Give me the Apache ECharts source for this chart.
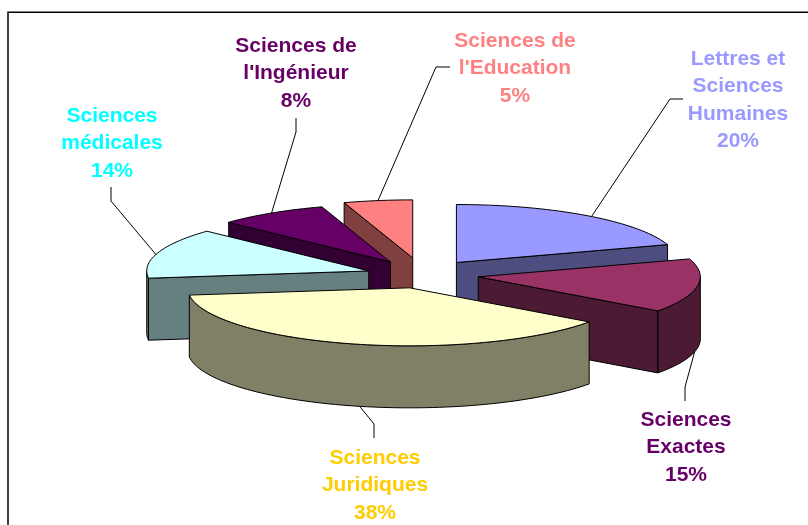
<!DOCTYPE html>
<html>
<head>
<meta charset="utf-8">
<title>Sciences</title>
<script src="https://cdn.jsdelivr.net/npm/echarts@6/dist/echarts.min.js"></script>
<style>
	html,body{margin:0;padding:0;background:#fff;}
	#main{width:808px;height:525px;}
</style>
</head>
<body>
<div id="main"></div>
<script>
	// valeurs, dans le sens horaire depuis midi
	var categories = ["Lettres et\nSciences\nHumaines","Sciences\nExactes","Sciences\nJuridiques","Sciences\nmédicales","Sciences de\nl'Ingénieur","Sciences de\nl'Education"];
	var shares = [20,15,38,14,8,5];
	var topColors = ["#9999FF","#993366","#FFFFCC","#CCFFFF","#660066","#FF8080"];
	var sideColors = ["#4D4D80","#4D1A33","#808066","#668080","#330033","#804040"];
	var textColors = ["#9999FF","#660066","#FFCC00","#00FFFF","#660066","#FF8080"];
	// ordre de dessin, du fond vers l'avant
	var drawOrder = [0,5,4,3,1,2];

	// mise en page du camembert
	var cx = 421.5, cy = 273.5, rx = 222, ry = 58, depth = 62;
	var explodeX = 56, explodeY = 14.8;
	var nudge = [[2,1],[1.5,1],[2,0],[0.5,2],[-1,1],[0,-1]];
	// coude et fin de chaque trait de rappel, centre et haut de chaque texte
	var leaderShift = [1.5,4,-1.4,-1.5,0,0];
	var leaderEnds = [[[670,99],[683,99]],[[685,387],[685,401]],[[374,424],[374,438]],[[111,201],[111,187]],[[296,132],[296,118]],[[436,67],[450,67]]];
	var labelPos = [[738,45],[686,406],[375,444],[112,102],[296,32],[515,27]];

	var total = shares.reduce(function(a,b){return a+b;},0);
	var angles = [], acc = 0;
	shares.forEach(function(v){
		var s = acc/total*Math.PI*2;
		acc += v;
		angles.push([s,acc/total*Math.PI*2]);
	});

	function centre(i){
		var m = (angles[i][0]+angles[i][1])/2;
		return [cx+explodeX*Math.sin(m)+nudge[i][0],cy-explodeY*Math.cos(m)+nudge[i][1]];
	}
	function rimPoint(c,t,dy){
		return [c[0]+rx*Math.sin(t),c[1]-ry*Math.cos(t)+(dy||0)];
	}
	function arc(c,a,b,dy){
		var pts = [], n = Math.max(2,Math.ceil((b-a)/0.03));
		for(var k = 0;k <= n;k++){
			pts.push(rimPoint(c,a+(b-a)*k/n,dy));
		}
		return pts;
	}
	function poly(points,fill){
		return {type:"polygon",shape:{points:points},style:{fill:fill,stroke:"#000",lineWidth:1,lineJoin:"round"}};
	}

	function renderSlice(params,api){
		var i = api.value(0);
		var s = angles[i][0], e = angles[i][1];
		var c = centre(i);
		var kids = [];
		var bottom = [c[0],c[1]+depth];
		// les parois coupees, seulement si elles regardent vers nous
		if(Math.sin(s) < -1e-6){
			var p = rimPoint(c,s);
			kids.push(poly([c,p,[p[0],p[1]+depth],bottom],sideColors[i]));
		}
		if(Math.sin(e) > 1e-6){
			var q = rimPoint(c,e);
			kids.push(poly([c,q,[q[0],q[1]+depth],bottom],sideColors[i]));
		}
		// le bord exterieur, moitie avant seulement
		var a = Math.max(s,Math.PI/2), b = Math.min(e,Math.PI*1.5);
		if(b > a){
			kids.push(poly(arc(c,a,b,0).concat(arc(c,a,b,depth).reverse()),sideColors[i]));
		}
		// le dessus
		kids.push(poly([c].concat(arc(c,s,e,0)),topColors[i]));
		return {type:"group",children:kids};
	}

	function renderLabel(params,api){
		var i = api.value(0);
		var m = (angles[i][0]+angles[i][1])/2+leaderShift[i]*Math.PI/180;
		var front = Math.cos(m) < 0;
		var start = rimPoint(centre(i),m,front ? depth : 0);
		var ends = leaderEnds[i];
		return {type:"group",children:[
			{type:"polyline",shape:{points:[start,ends[0],ends[1]]},style:{fill:null,stroke:"#000",lineWidth:1}},
			{type:"text",style:{
				x:labelPos[i][0],y:labelPos[i][1],
				text:categories[i]+"\n"+shares[i]+"%",
				fill:textColors[i],
				font:"bold 21px 'Liberation Sans', Arial, sans-serif",
				lineHeight:27.5,
				align:"center",verticalAlign:"top"
			}}
		]};
	}

	var myChart = echarts.init(document.getElementById("main"));
	myChart.setOption({
		backgroundColor:"#fff",
		animation:false,
		// le cadre du graphique: seuls le haut et la gauche restent dans l'image
		graphic:[{type:"polyline",shape:{points:[[808,12.3],[8,12.3],[8,525]]},style:{fill:null,stroke:"#000",lineWidth:1.5},silent:true}],
		series:[
			{type:"custom",coordinateSystem:"none",data:drawOrder.map(function(i){return [i,shares[i]];}),encode:{value:1},renderItem:renderSlice,z:2,silent:true},
			{type:"custom",coordinateSystem:"none",data:drawOrder.map(function(i){return [i,shares[i]];}),encode:{value:1},renderItem:renderLabel,z:3,silent:true}
		]
	});
</script>
</body>
</html>
